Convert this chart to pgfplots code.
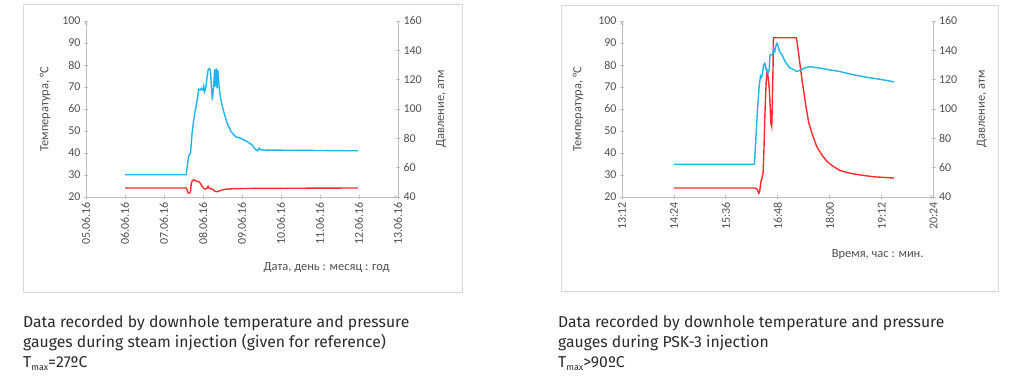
\documentclass[border=0pt]{standalone}
\usepackage{fontspec}
\setmainfont{Carlito}
\newfontfamily\capfont{Fira Sans}
\usepackage{pgfplots}
\pgfplotsset{compat=1.18}
\definecolor{axisgray}{HTML}{BFBFBF}
\definecolor{txtgray}{HTML}{505050}
\definecolor{framegray}{HTML}{D9D9D9}
\definecolor{capgray}{HTML}{2A2A2A}
\definecolor{pblue}{HTML}{1EB4F0}
\definecolor{tred}{HTML}{FF2A2A}
\pgfplotsset{
  base/.style={scale only axis, width=312bp, height=176bp, anchor=south west,
    axis line style={draw=axisgray, line width=0.75bp, -},
    tick style={draw=axisgray, line width=0.75bp},
    major tick length=4bp, tick align=outside,
    ticklabel style={font=\fontsize{12}{14}\selectfont, text=txtgray},
    label style={font=\fontsize{12.5}{14}\selectfont, text=txtgray},
    /pgf/number format/assume math mode=true,
    clip=false},
  leftax/.style={base, axis x line=bottom, axis y line=left,
    ymin=20, ymax=100, ytick={20,30,...,100},
    xticklabel style={rotate=90, anchor=east},
    ylabel style={at={(axis description cs:-0.131,0.5)}, anchor=center}},
  rightax/.style={base, axis x line=none, axis y line*=right,
    ymin=40, ymax=160, ytick={40,60,...,160}, tick align=center},
}
\begin{document}
\begin{tikzpicture}
\path[use as bounding box] (0,0) rectangle (1024bp,391bp);
\draw[framegray, line width=1bp] (23bp,98bp) rectangle (462bp,386bp);
\draw[framegray, line width=1bp] (561bp,99bp) rectangle (998bp,385bp);

% ---------- Left chart ----------
\begin{axis}[leftax, at={(86bp,194bp)}, xmin=5, xmax=13,
  xtick={5,6,...,13},
  xticklabels={05.06.16,06.06.16,07.06.16,08.06.16,09.06.16,10.06.16,11.06.16,12.06.16,13.06.16},
  ylabel={Температура, °C},
  xlabel={Дата, день : месяц : год},
  xlabel style={at={(axis description cs:0.984,-0.398)}, anchor=east}]
\addplot[tred, line width=1.4bp] coordinates {
(6.0,24.1)(7.57,24.1)(7.59,23.3)(7.62,21.8)(7.66,21.8)(7.68,22.6)(7.70,26.3)(7.73,27.5)
(7.76,27.8)(7.80,27.5)(7.85,27.1)(7.89,27.0)(7.93,26.3)(7.97,25.1)(8.02,23.9)(8.06,23.6)
(8.10,23.9)(8.13,24.8)(8.15,24.1)(8.19,23.8)(8.23,23.6)(8.27,23.3)(8.30,22.6)(8.36,22.4)
(8.44,22.9)(8.57,23.5)(8.79,23.8)(9.30,23.9)(11.97,24.1)};
\end{axis}
\begin{axis}[rightax, at={(86bp,194bp)}, xmin=5, xmax=13,
  ylabel={Давление, атм},
  ylabel style={at={(axis description cs:1.138,0.5)}, anchor=center, rotate=0}]
\addplot[pblue, line width=1.4bp] coordinates {
(6.0,55.2)(7.57,55.2)(7.59,59.5)(7.63,67.6)(7.68,70.0)(7.72,83.5)(7.76,92.5)(7.82,101.5)
(7.86,107.5)(7.89,113.5)(7.93,112.9)(7.96,114.1)(8.00,112.9)(8.02,115.6)(8.04,111.8)
(8.07,114.1)(8.10,120.9)(8.13,126.5)(8.16,127.6)(8.19,126.5)(8.21,117.4)(8.24,106.1)
(8.27,114.7)(8.30,127.0)(8.32,115.2)(8.34,127.6)(8.36,114.1)(8.38,126.5)(8.42,112.9)
(8.46,106.1)(8.53,98.2)(8.62,90.3)(8.72,84.6)(8.83,81.2)(8.96,80.1)(9.13,77.8)(9.26,75.5)
(9.34,72.6)(9.40,71.5)(9.44,73.3)(9.47,72.2)(9.60,72.0)(11.97,71.5)};
\end{axis}

% ---------- Right chart ----------
\begin{axis}[leftax, at={(622bp,194bp)}, width=311.6bp, xmin=13.2, xmax=20.4,
  xtick={13.2,14.4,15.6,16.8,18,19.2,20.4},
  xticklabels={13:12,14:24,15:36,16:48,18:00,19:12,20:24},
  ylabel={Температура, °C},
  ylabel style={at={(axis description cs:-0.141,0.5)}},
  xlabel={Время, час : мин.},
  xlabel style={at={(axis description cs:0.979,-0.324)}, anchor=east}]
\addplot[tred, line width=1.4bp] coordinates {
(14.4,24.1)(16.28,24.1)(16.32,23.5)(16.36,21.7)(16.38,22.4)(16.41,27.0)(16.43,28.2)
(16.46,30.8)(16.48,41.4)(16.50,56.5)(16.53,71.7)(16.55,77.3)(16.57,75.5)(16.60,70.2)
(16.62,62.6)(16.64,53.5)(16.66,52.0)(16.67,59.5)(16.69,79.2)(16.70,92.4)(17.23,92.4)
(17.28,85.3)(17.36,73.2)(17.44,62.6)(17.51,54.2)(17.59,48.9)(17.70,42.9)(17.82,39.1)
(17.94,36.1)(18.09,33.8)(18.24,32.0)(18.47,30.8)(18.71,30.0)(19.01,29.2)(19.49,28.6)};
\end{axis}
\begin{axis}[rightax, at={(622bp,194bp)}, width=311.6bp, xmin=13.2, xmax=20.4,
  ylabel={Давление, атм},
  ylabel style={at={(axis description cs:1.155,0.5)}, anchor=center, rotate=0}]
\addplot[pblue, line width=1.4bp] coordinates {
(14.4,62.3)(16.26,62.3)(16.30,83.4)(16.33,99.3)(16.37,115.3)(16.40,122.5)(16.42,121.6)
(16.44,123.3)(16.47,130.0)(16.50,131.2)(16.52,127.8)(16.55,125.5)(16.57,124.3)(16.60,126.6)
(16.62,136.8)(16.64,137.2)(16.67,136.8)(16.69,138.0)(16.70,141.4)(16.73,139.1)(16.75,142.5)
(16.78,144.7)(16.81,142.5)(16.84,139.1)(16.90,136.8)(16.97,132.3)(17.07,128.2)(17.17,126.8)
(17.24,125.5)(17.32,126.6)(17.44,128.2)(17.55,128.8)(17.70,128.2)(17.94,127.0)(18.24,125.5)
(18.55,123.3)(18.86,121.6)(19.17,120.2)(19.49,118.5)};
\end{axis}

% ---------- Captions ----------
\begin{scope}[every node/.style={anchor=base west, inner sep=0pt, text=capgray,
  font=\capfont\fontsize{15.8}{17}\selectfont}]
\node at (23bp,63bp) {Data recorded by downhole temperature and pressure};
\node at (23bp,43.5bp) {gauges during steam injection (given for reference)};
\node at (23bp,24bp) {T\raisebox{-3bp}{\fontsize{9}{9}\selectfont max}=27ºC};
\node at (558bp,63bp) {Data recorded by downhole temperature and pressure};
\node at (558bp,43.5bp) {gauges during PSK-3 injection};
\node at (558bp,24bp) {T\raisebox{-3bp}{\fontsize{9}{9}\selectfont max}>90ºC};
\end{scope}
\end{tikzpicture}
\end{document}
